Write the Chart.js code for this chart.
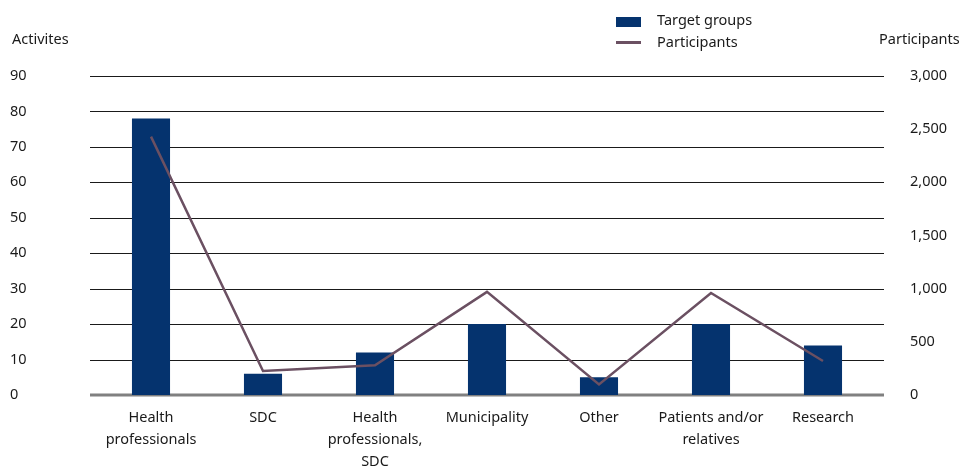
<!DOCTYPE html>
<html><head><meta charset="utf-8">
<script src="https://cdn.jsdelivr.net/npm/chart.js@4/dist/chart.umd.min.js"></script>
<style>
html,body{margin:0;padding:0;background:#fff;}
#wrap{position:relative;width:960px;height:468px;font-family:"Noto Sans",sans-serif;color:#1a1a1a;}
canvas{position:absolute;left:0;top:0}
.t{position:absolute;font-size:14.5px;line-height:16px;white-space:nowrap}
.sw{position:absolute}
</style></head><body>
<div id="wrap"><canvas id="c" width="960" height="468"></canvas>
<div class="t" id="ytl" style="left:12px;top:30px"></div>
<div class="t" id="ytr" style="left:879px;top:30px"></div>
<div class="sw" style="left:616px;top:17px;width:25px;height:10px;background:#05336e"></div>
<div class="t" id="lg0" style="left:657px;top:11px"></div>
<div class="sw" style="left:616px;top:41px;width:25px;height:3px;background:#6b5062"></div>
<div class="t" id="lg1" style="left:657px;top:33px"></div>
</div>
<script>
const categories = [["Health","professionals"],"SDC",["Health","professionals,","SDC"],"Municipality","Other",["Patients and/or","relatives"],"Research"];
const seriesNames = ["Target groups","Participants"];
const activities = [78, 6, 12, 20, 5, 20, 14];
const participants = [2430, 225, 280, 970, 100, 960, 320];
const leftTitle = "Activites";
const rightTitle = "Participants";

document.getElementById('ytl').textContent = leftTitle;
document.getElementById('ytr').textContent = rightTitle;
document.getElementById('lg0').textContent = seriesNames[0];
document.getElementById('lg1').textContent = seriesNames[1];

const FONT = "'Noto Sans', sans-serif";
const FS = 14.5;
const gridPlugin = {
  id: 'grid',
  beforeDatasetsDraw(chart) {
    const ctx = chart.ctx, a = chart.chartArea, ys = chart.scales.y;
    ctx.save();
    ys.ticks.forEach((t, i) => {
      const y = Math.round(ys.getPixelForValue(t.value));
      ctx.beginPath();
      if (t.value === 0) {
        ctx.strokeStyle = '#808080'; ctx.lineWidth = 3;
      } else {
        ctx.strokeStyle = '#1a1a1a'; ctx.lineWidth = 1;
      }
      const off = t.value === 0 ? 0 : 0.5;
      ctx.moveTo(a.left - 5, y + off);
      ctx.lineTo(a.right + 5, y + off);
      ctx.stroke();
    });
    ctx.restore();
  }
};

new Chart(document.getElementById('c'), {
  data: {
    labels: categories,
    datasets: [
      { type: 'line', label: seriesNames[1], data: participants, yAxisID: 'y1',
        borderColor: '#6b5062', borderWidth: 2.5, pointRadius: 0, tension: 0, order: 0 },
      { type: 'bar', label: seriesNames[0], data: activities, yAxisID: 'y',
        backgroundColor: '#05336e', categoryPercentage: 1, barPercentage: 0.34, order: 1 }
    ]
  },
  options: {
    responsive: false, animation: false, devicePixelRatio: 1,
    layout: { padding: { top: 76, left: 10, right: 0, bottom: 0 } },
    plugins: { legend: { display: false }, tooltip: { enabled: false } },
    scales: {
      x: {
        grid: { display: false, drawTicks: false }, border: { display: false },
        ticks: { color: '#1a1a1a', font: { family: FONT, size: FS, lineHeight: 1.5 }, padding: 12, maxRotation: 0, autoSkip: false },
        afterFit(s) { s.height = 73; }
      },
      y: {
        position: 'left', min: 0, max: 90,
        grid: { display: false, drawTicks: false }, border: { display: false },
        ticks: { stepSize: 10, crossAlign: 'far', color: '#1a1a1a', font: { family: FONT, size: FS } },
        afterFit(s) { s.width = 85; }
      },
      y1: {
        position: 'right', min: 0, max: 3000,
        grid: { display: false, drawTicks: false }, border: { display: false },
        ticks: { stepSize: 500, crossAlign: 'near', padding: 31, color: '#1a1a1a', font: { family: FONT, size: FS },
          callback: v => v.toLocaleString('en-US') },
        afterFit(s) { s.width = 81; }
      }
    }
  },
  plugins: [gridPlugin]
});
</script>
</body></html>
